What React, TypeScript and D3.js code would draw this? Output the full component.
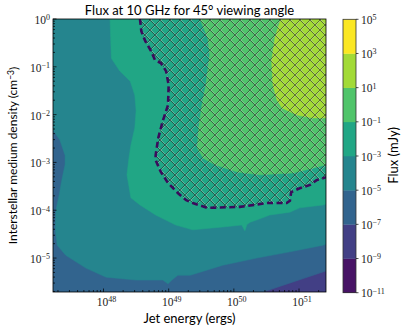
import { useEffect, useRef } from 'react';
import * as d3 from 'd3';

// axis limits, log10 of jet energy (ergs) and density (cm^-3)
const E0 = 47.225, E1 = 51.414;
const N0 = -5.71, N1 = 0;

// colorbar levels, log10 of flux (mJy)
const fluxLevels = [-11, -9, -7, -5, -3, -1, 1, 3, 5];

// filled contour outlines, points are [log10 E, log10 n]
// each polygon is the area where flux >= its level
const fluxAboveM7 = [[E0, N0], [50.45, N0], [E1, -5.27], [E1, N1], [E0, N1]];
const fluxAboveM5 = [
  [E0, -2.32], [47.33, -2.53], [47.41, -2.85], [47.41, -3.05], [47.36, -3.37], [47.32, -3.68],
  [47.27, -4.0], [47.26, -4.41], [47.29, -4.73], [47.42, -4.94], [47.73, -5.21], [48.04, -5.4],
  [48.5, -5.46], [48.91, -5.46], [48.99, -5.54], [49.05, -5.46], [49.14, -5.36], [49.33, -5.36],
  [49.83, -5.15], [50.35, -5.0], [50.86, -4.87], [51.37, -4.73], [E1, -4.71], [E1, N1], [E0, N1],
];
const fluxAboveM3 = [
  [48.1, N1], [48.12, -0.82], [48.25, -1.09], [48.41, -1.3], [48.48, -1.59], [48.5, -1.92],
  [48.48, -2.28], [48.42, -2.64], [48.39, -2.91], [48.36, -3.26], [48.42, -3.74], [48.56, -3.89],
  [48.8, -4.1], [49.11, -4.31], [49.37, -4.41], [49.83, -4.35], [50.12, -4.31], [50.17, -4.43],
  [50.2, -4.3], [50.25, -4.25], [50.4, -4.18], [50.55, -4.1], [50.86, -4.04], [51.01, -3.95],
  [51.37, -3.89], [E1, -3.87], [E1, N1],
];
const fluxAboveM1 = [
  [49.48, N1], [49.6, -0.4], [49.63, -0.75], [49.57, -1.38], [49.51, -1.8], [49.46, -2.28],
  [49.44, -2.7], [49.53, -2.91], [49.71, -3.05], [50.05, -3.2], [50.4, -3.26], [50.91, -3.22],
  [51.21, -3.12], [E1, -3.05], [E1, N1],
];
const fluxAboveP1 = [
  [50.72, N1], [50.63, -0.4], [50.58, -0.88], [50.6, -1.38], [50.66, -1.69], [50.74, -1.86],
  [50.97, -2.01], [51.21, -2.07], [E1, -2.07], [E1, N1],
];

// dashed boundary of the hatched region
const hatchBoundary = [
  [48.56, N1], [48.58, -0.25], [48.64, -0.46], [48.73, -0.67], [48.79, -0.86], [48.88, -0.92],
  [48.96, -1.09], [49.0, -1.38], [48.99, -1.8], [48.91, -2.13], [48.84, -2.49], [48.8, -2.85],
  [48.8, -2.95], [48.88, -3.2], [48.99, -3.43], [49.14, -3.64], [49.27, -3.79], [49.37, -3.85],
  [49.59, -3.95], [50.09, -3.93], [50.51, -3.85], [50.81, -3.85], [50.86, -3.8], [50.88, -3.62],
  [51.01, -3.54], [51.17, -3.47], [51.27, -3.37], [E1, -3.31],
];

const energyTicks = [48, 49, 50, 51];
const densityTicks = [-5, -4, -3, -2, -1, 0];

const regions = [
  { level: -7, points: fluxAboveM7 },
  { level: -5, points: fluxAboveM5 },
  { level: -3, points: fluxAboveM3 },
  { level: -1, points: fluxAboveM1 },
  { level: 1, points: fluxAboveP1 },
];

const sans = 'Lato, "Open Sans", sans-serif';
const serif = '"Liberation Serif", "DejaVu Serif", serif';

const App = () => {
  const svgRef = useRef(null);

  useEffect(() => {
    const svg = d3.select(svgRef.current);
    svg.selectAll('*').remove();

    const left = 53, right = 326, top = 19, bottom = 292;

    const x = d3.scaleLog().domain([10 ** E0, 10 ** E1]).range([left, right]);
    const y = d3.scaleLog().domain([10 ** N0, 10 ** N1]).range([bottom, top]);
    const cbar = d3.scaleLinear().domain([-11, 5]).range([bottom + 0.7, top + 0.3]);

    // viridis, one colour per band between two levels
    const bandColor = (lo) => d3.interpolateViridis(0.05 + ((lo + 11) / 2) * 0.135);

    const line = d3.line()
      .x(d => x(10 ** d[0]))
      .y(d => y(10 ** d[1]));

    const defs = svg.append('defs');
    defs.append('clipPath').attr('id', 'plot-clip')
      .append('rect')
      .attr('x', left).attr('y', top)
      .attr('width', right - left).attr('height', bottom - top);

    // cross hatch: a pale line beside each dark one
    const pat = defs.append('pattern')
      .attr('id', 'xhatch')
      .attr('patternUnits', 'userSpaceOnUse')
      .attr('width', 10).attr('height', 10);
    const segs = [
      [0, 0, 10, 10], [0, 10, 10, 0],
      [-10, 0, 0, 10], [10, 0, 20, 10], [-10, 10, 0, 0], [10, 10, 20, 0],
    ];
    segs.forEach(([a, b, c, e]) => {
      pat.append('line')
        .attr('x1', a + 1).attr('y1', b).attr('x2', c + 1).attr('y2', e)
        .attr('stroke', '#d0d0d0').attr('stroke-width', 0.7).attr('opacity', 0.55);
    });
    segs.forEach(([a, b, c, e]) => {
      pat.append('line')
        .attr('x1', a).attr('y1', b).attr('x2', c).attr('y2', e)
        .attr('stroke', '#1a1a1a').attr('stroke-width', 0.8).attr('opacity', 0.65);
    });

    const g = svg.append('g').attr('clip-path', 'url(#plot-clip)');

    // lowest band present fills the whole area
    g.append('rect')
      .attr('x', left).attr('y', top)
      .attr('width', right - left).attr('height', bottom - top)
      .attr('fill', bandColor(-9));

    g.selectAll('.band')
      .data(regions)
      .enter()
      .append('path')
      .attr('class', 'band')
      .attr('d', d => line(d.points) + 'Z')
      .attr('fill', d => bandColor(d.level))
      .attr('stroke', d => bandColor(d.level))
      .attr('stroke-width', 0.5);

    g.append('path')
      .attr('d', line([...hatchBoundary, [E1, N1]]) + 'Z')
      .attr('fill', 'url(#xhatch)');

    g.append('path')
      .attr('d', line(hatchBoundary))
      .attr('fill', 'none')
      .attr('stroke', '#3b0b5c')
      .attr('stroke-width', 2.6)
      .attr('stroke-dasharray', '6,3.5');

    // ticks, pointing inward
    const minorE = [];
    for (let p = 47; p <= 51; p++) for (let k = 2; k <= 9; k++) {
      const v = k * 10 ** p;
      if (v > 10 ** E0 && v < 10 ** E1) minorE.push(v);
    }
    const minorN = [];
    for (let p = -6; p <= -1; p++) for (let k = 2; k <= 9; k++) {
      const v = k * 10 ** p;
      if (v > 10 ** N0 && v < 10 ** N1) minorN.push(v);
    }

    const ax = svg.append('g').attr('stroke', '#000').attr('stroke-width', 0.7);
    energyTicks.forEach(t => {
      const px = x(10 ** t);
      ax.append('line').attr('x1', px).attr('x2', px).attr('y1', bottom).attr('y2', bottom - 3.5);
    });
    minorE.forEach(v => {
      ax.append('line').attr('x1', x(v)).attr('x2', x(v)).attr('y1', bottom).attr('y2', bottom - 2);
    });
    densityTicks.forEach(t => {
      const py = y(10 ** t);
      ax.append('line').attr('x1', left).attr('x2', left + 3.5).attr('y1', py).attr('y2', py);
    });
    minorN.forEach(v => {
      ax.append('line').attr('x1', left).attr('x2', left + 2).attr('y1', y(v)).attr('y2', y(v));
    });

    svg.append('rect')
      .attr('x', left).attr('y', top)
      .attr('width', right - left).attr('height', bottom - top)
      .attr('fill', 'none').attr('stroke', '#000').attr('stroke-width', 0.8);

    const powerLabel = (sel, exp) => {
      sel.append('tspan').text('10');
      sel.append('tspan')
        .attr('dy', '-0.45em')
        .attr('font-size', '8px')
        .text(exp < 0 ? '\u2212' + Math.abs(exp) : String(exp));
    };

    energyTicks.forEach(t => {
      const txt = svg.append('text')
        .attr('x', x(10 ** t) + 3)
        .attr('y', 306)
        .attr('text-anchor', 'middle')
        .attr('font-family', serif)
        .attr('font-size', '11.5px')
        .attr('fill', '#222');
      powerLabel(txt, t);
    });

    densityTicks.forEach(t => {
      const txt = svg.append('text')
        .attr('x', 50)
        .attr('y', y(10 ** t) + 5)
        .attr('text-anchor', 'end')
        .attr('font-family', serif)
        .attr('font-size', '11.5px')
        .attr('fill', '#222');
      powerLabel(txt, t);
    });

    // colorbar
    const cbx = 343, cbw = 13;
    fluxLevels.slice(0, -1).forEach((lo, i) => {
      svg.append('rect')
        .attr('x', cbx)
        .attr('y', cbar(fluxLevels[i + 1]))
        .attr('width', cbw)
        .attr('height', cbar(lo) - cbar(fluxLevels[i + 1]) + 0.3)
        .attr('fill', bandColor(lo));
    });
    svg.append('rect')
      .attr('x', cbx).attr('y', cbar(5))
      .attr('width', cbw).attr('height', cbar(-11) - cbar(5))
      .attr('fill', 'none').attr('stroke', '#333').attr('stroke-width', 0.8);
    fluxLevels.forEach(l => {
      svg.append('line')
        .attr('x1', cbx + cbw).attr('x2', cbx + cbw + 2.5)
        .attr('y1', cbar(l)).attr('y2', cbar(l))
        .attr('stroke', '#000').attr('stroke-width', 0.7);
      const txt = svg.append('text')
        .attr('x', 361)
        .attr('y', cbar(l) + 4.5)
        .attr('font-family', serif)
        .attr('font-size', '11.5px')
        .attr('fill', '#222');
      powerLabel(txt, l);
    });

    // titles
    svg.append('text')
      .attr('x', (left + right) / 2)
      .attr('y', 15)
      .attr('text-anchor', 'middle')
      .attr('font-family', sans)
      .attr('font-size', '13px')
      .text('Flux at 10 GHz for 45\u00b0 viewing angle');

    svg.append('text')
      .attr('x', (left + right) / 2)
      .attr('y', 323)
      .attr('text-anchor', 'middle')
      .attr('font-family', sans)
      .attr('font-size', '13px')
      .text('Jet energy (ergs)');

    const yl = svg.append('text')
      .attr('transform', `translate(17,${(top + bottom) / 2}) rotate(-90)`)
      .attr('text-anchor', 'middle')
      .attr('font-family', sans)
      .attr('font-size', '12px');
    yl.append('tspan').text('Interstellar medium density (cm');
    yl.append('tspan').attr('dy', '-0.4em').attr('font-size', '8.5px').text('\u22123');
    yl.append('tspan').attr('dy', '0.4em').text(')');

    svg.append('text')
      .attr('transform', `translate(398,${(top + bottom) / 2}) rotate(-90)`)
      .attr('text-anchor', 'middle')
      .attr('font-family', sans)
      .attr('font-size', '13px')
      .text('Flux (mJy)');
  }, []);

  return (
    <svg
      ref={svgRef}
      width={415}
      height={332}
      style={{ position: 'absolute', left: 0, top: 0, background: '#fff' }}
    />
  );
};

export default App;
